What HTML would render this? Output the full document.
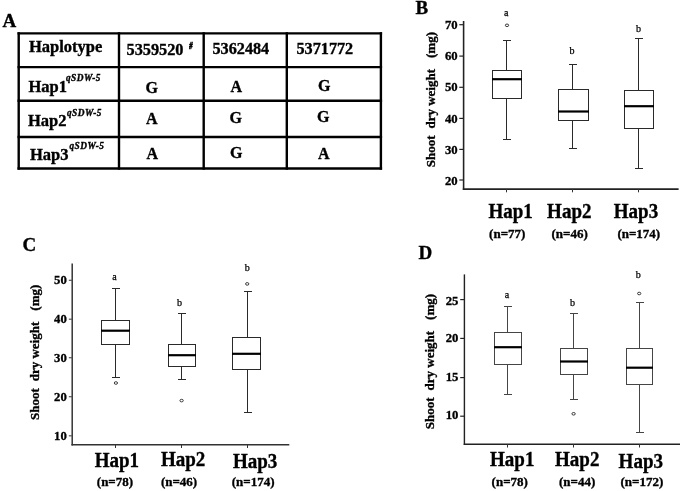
<!DOCTYPE html>
<html><head><meta charset="utf-8"><title>Haplotype figure</title>
<style>
html,body{margin:0;padding:0;background:#fff;}
svg{display:block;font-family:"Liberation Serif", serif;fill:#000;}
text[font-weight=bold]{stroke:#000;stroke-width:0.35px;}
</style></head><body>
<svg width="685" height="491" viewBox="0 0 685 491">
<defs><filter id="soft" x="0" y="0" width="685" height="491" filterUnits="userSpaceOnUse"><feGaussianBlur stdDeviation="0.32"/></filter></defs>
<rect width="685" height="491" fill="#fff"/>
<g filter="url(#soft)">
<text x="2.5" y="27.3" font-size="19" font-weight="bold" text-anchor="start"  >A</text>
<line x1="18.7" y1="32.199999999999996" x2="18.7" y2="169.7" stroke="#000" stroke-width="2.4"/>
<line x1="119" y1="32.199999999999996" x2="119" y2="169.7" stroke="#000" stroke-width="2.4"/>
<line x1="203.7" y1="32.199999999999996" x2="203.7" y2="169.7" stroke="#000" stroke-width="2.4"/>
<line x1="286.8" y1="32.199999999999996" x2="286.8" y2="169.7" stroke="#000" stroke-width="2.4"/>
<line x1="380.9" y1="32.199999999999996" x2="380.9" y2="169.7" stroke="#000" stroke-width="2.4"/>
<line x1="17.5" y1="33.4" x2="382.09999999999997" y2="33.4" stroke="#000" stroke-width="2.4"/>
<line x1="17.5" y1="67.1" x2="382.09999999999997" y2="67.1" stroke="#000" stroke-width="2.4"/>
<line x1="17.5" y1="100.8" x2="382.09999999999997" y2="100.8" stroke="#000" stroke-width="2.4"/>
<line x1="17.5" y1="137" x2="382.09999999999997" y2="137" stroke="#000" stroke-width="2.4"/>
<line x1="17.5" y1="168.5" x2="382.09999999999997" y2="168.5" stroke="#000" stroke-width="2.4"/>
<text x="29" y="51.8" font-size="16.5" font-weight="bold" text-anchor="start"  >Haplotype</text>
<text x="126.5" y="55" font-size="16.3" font-weight="bold" text-anchor="start"  >5359520</text>
<text transform="translate(189.3,49.3) scale(0.62,1)" font-size="10.5" font-weight="bold" font-style="italic" style="stroke-width:0.7px">#</text>
<text x="212.5" y="54.2" font-size="16.2" font-weight="bold" text-anchor="start"  >5362484</text>
<text x="296.5" y="53.7" font-size="16.2" font-weight="bold" text-anchor="start"  >5371772</text>
<text x="28.5" y="92.3" font-size="16.5" font-weight="bold" text-anchor="start"  >Hap1</text>
<text x="66" y="80.8" font-size="9.3" font-weight="bold" text-anchor="start" font-style="italic" letter-spacing="0.45">qSDW-5</text>
<text x="28" y="126.4" font-size="16.5" font-weight="bold" text-anchor="start"  >Hap2</text>
<text x="67" y="115.8" font-size="9.3" font-weight="bold" text-anchor="start" font-style="italic" letter-spacing="0.45">qSDW-5</text>
<text x="30" y="160" font-size="16.5" font-weight="bold" text-anchor="start"  >Hap3</text>
<text x="69.5" y="149.3" font-size="9.3" font-weight="bold" text-anchor="start" font-style="italic" letter-spacing="0.45">qSDW-5</text>
<text x="145.5" y="92.5" font-size="16" font-weight="bold" text-anchor="start"  >G</text>
<text x="230.5" y="92" font-size="16" font-weight="bold" text-anchor="start"  >A</text>
<text x="318" y="90.5" font-size="16" font-weight="bold" text-anchor="start"  >G</text>
<text x="146" y="123.5" font-size="16" font-weight="bold" text-anchor="start"  >A</text>
<text x="229.5" y="122.5" font-size="16" font-weight="bold" text-anchor="start"  >G</text>
<text x="317" y="121.5" font-size="16" font-weight="bold" text-anchor="start"  >G</text>
<text x="146.5" y="159" font-size="16" font-weight="bold" text-anchor="start"  >A</text>
<text x="230" y="158" font-size="16" font-weight="bold" text-anchor="start"  >G</text>
<text x="318" y="159" font-size="16" font-weight="bold" text-anchor="start"  >A</text>
<text x="415.4" y="14.3" font-size="19" font-weight="bold" text-anchor="start"  >B</text>
<line x1="463.6" y1="21" x2="463.6" y2="189.9" stroke="#222" stroke-width="1.6"/>
<line x1="462.8" y1="189.1" x2="678.6" y2="189.1" stroke="#222" stroke-width="1.6"/>
<line x1="459.3" y1="24.7" x2="463.6" y2="24.7" stroke="#222" stroke-width="1.2"/>
<text x="457.70000000000005" y="28.7" font-size="13.5" font-weight="bold" text-anchor="end"  textLength="12.7" lengthAdjust="spacingAndGlyphs">70</text>
<line x1="459.3" y1="56.1" x2="463.6" y2="56.1" stroke="#222" stroke-width="1.2"/>
<text x="457.70000000000005" y="60.199999999999996" font-size="13.5" font-weight="bold" text-anchor="end"  textLength="12.7" lengthAdjust="spacingAndGlyphs">60</text>
<line x1="459.3" y1="87.3" x2="463.6" y2="87.3" stroke="#222" stroke-width="1.2"/>
<text x="457.70000000000005" y="91.0" font-size="13.5" font-weight="bold" text-anchor="end"  textLength="12.7" lengthAdjust="spacingAndGlyphs">50</text>
<line x1="459.3" y1="118.4" x2="463.6" y2="118.4" stroke="#222" stroke-width="1.2"/>
<text x="457.70000000000005" y="123.2" font-size="13.5" font-weight="bold" text-anchor="end"  textLength="12.7" lengthAdjust="spacingAndGlyphs">40</text>
<line x1="459.3" y1="149.4" x2="463.6" y2="149.4" stroke="#222" stroke-width="1.2"/>
<text x="457.70000000000005" y="154.20000000000002" font-size="13.5" font-weight="bold" text-anchor="end"  textLength="12.7" lengthAdjust="spacingAndGlyphs">30</text>
<line x1="459.3" y1="180" x2="463.6" y2="180" stroke="#222" stroke-width="1.2"/>
<text x="457.70000000000005" y="184.8" font-size="13.5" font-weight="bold" text-anchor="end"  textLength="12.7" lengthAdjust="spacingAndGlyphs">20</text>
<text transform="translate(434.5,167.3) rotate(-90)" font-size="13" font-weight="bold">Shoot</text>
<text transform="translate(434.5,128.6) rotate(-90)" font-size="13" font-weight="bold">dry weight</text>
<text transform="translate(434.5,58) rotate(-90)" font-size="13" font-weight="bold">(mg)</text>
<line x1="506.5" y1="189.1" x2="506.5" y2="192.29999999999998" stroke="#333" stroke-width="1"/>
<line x1="506.5" y1="40.5" x2="506.5" y2="70.5" stroke="#2a2a2a" stroke-width="1"/>
<line x1="506.5" y1="98.5" x2="506.5" y2="139.5" stroke="#2a2a2a" stroke-width="1"/>
<line x1="503.0" y1="40.5" x2="511.0" y2="40.5" stroke="#2a2a2a" stroke-width="1"/>
<line x1="503.0" y1="139.5" x2="511.0" y2="139.5" stroke="#2a2a2a" stroke-width="1"/>
<rect x="492.5" y="70.5" width="29.0" height="28.0" fill="#fff" stroke="#2a2a2a" stroke-width="1"/>
<line x1="492.0" y1="79.2" x2="522.0" y2="79.2" stroke="#000" stroke-width="2.2"/>
<ellipse cx="507" cy="25.3" rx="1.65" ry="1.3" fill="#fff" stroke="#000" stroke-width="0.75"/>
<text x="506.2" y="16.2" font-size="10" font-weight="normal" text-anchor="middle"  stroke="#000" stroke-width="0.25">a</text>
<line x1="572.5" y1="189.1" x2="572.5" y2="192.29999999999998" stroke="#333" stroke-width="1"/>
<line x1="572.5" y1="64.5" x2="572.5" y2="89.5" stroke="#2a2a2a" stroke-width="1"/>
<line x1="572.5" y1="120.5" x2="572.5" y2="148.5" stroke="#2a2a2a" stroke-width="1"/>
<line x1="569.0" y1="64.5" x2="577.0" y2="64.5" stroke="#2a2a2a" stroke-width="1"/>
<line x1="569.0" y1="148.5" x2="577.0" y2="148.5" stroke="#2a2a2a" stroke-width="1"/>
<rect x="558.5" y="89.5" width="30.0" height="31.0" fill="#fff" stroke="#2a2a2a" stroke-width="1"/>
<line x1="558.0" y1="111.5" x2="589.0" y2="111.5" stroke="#000" stroke-width="2.2"/>
<text x="572.0" y="54" font-size="10" font-weight="normal" text-anchor="middle"  stroke="#000" stroke-width="0.25">b</text>
<line x1="638.5" y1="189.1" x2="638.5" y2="192.29999999999998" stroke="#333" stroke-width="1"/>
<line x1="638.5" y1="38.5" x2="638.5" y2="90.5" stroke="#2a2a2a" stroke-width="1"/>
<line x1="638.5" y1="128.5" x2="638.5" y2="168.5" stroke="#2a2a2a" stroke-width="1"/>
<line x1="635.0" y1="38.5" x2="643.0" y2="38.5" stroke="#2a2a2a" stroke-width="1"/>
<line x1="635.0" y1="168.5" x2="643.0" y2="168.5" stroke="#2a2a2a" stroke-width="1"/>
<rect x="624.5" y="90.5" width="29.0" height="38.0" fill="#fff" stroke="#2a2a2a" stroke-width="1"/>
<line x1="624.0" y1="106.2" x2="654.0" y2="106.2" stroke="#000" stroke-width="2.2"/>
<text x="638.6" y="31.7" font-size="10" font-weight="normal" text-anchor="middle"  stroke="#000" stroke-width="0.25">b</text>
<text x="488.4" y="218" font-size="20.1" font-weight="bold" text-anchor="start"  textLength="44.4" lengthAdjust="spacingAndGlyphs">Hap1</text>
<text x="547.1" y="218" font-size="20.1" font-weight="bold" text-anchor="start"  textLength="44.4" lengthAdjust="spacingAndGlyphs">Hap2</text>
<text x="613.8" y="218" font-size="20.1" font-weight="bold" text-anchor="start"  textLength="44.4" lengthAdjust="spacingAndGlyphs">Hap3</text>
<text x="489.1" y="237.7" font-size="13" font-weight="bold" text-anchor="start"  >(n=77)</text>
<text x="551.5" y="237.7" font-size="13" font-weight="bold" text-anchor="start"  >(n=46)</text>
<text x="617.4" y="237.7" font-size="13" font-weight="bold" text-anchor="start"  >(n=174)</text>
<text x="22.4" y="251.2" font-size="19" font-weight="bold" text-anchor="start"  >C</text>
<line x1="72.2" y1="263.5" x2="72.2" y2="445.55" stroke="#333" stroke-width="1.5"/>
<line x1="71.45" y1="444.8" x2="289.3" y2="444.8" stroke="#333" stroke-width="1.5"/>
<line x1="68.85000000000001" y1="280.3" x2="72.2" y2="280.3" stroke="#555" stroke-width="1.2"/>
<text x="66.8" y="283.7" font-size="13.2" font-weight="bold" text-anchor="end"  textLength="12.7" lengthAdjust="spacingAndGlyphs">50</text>
<line x1="68.85000000000001" y1="319.2" x2="72.2" y2="319.2" stroke="#555" stroke-width="1.2"/>
<text x="66.8" y="323.2" font-size="13.2" font-weight="bold" text-anchor="end"  textLength="12.7" lengthAdjust="spacingAndGlyphs">40</text>
<line x1="68.85000000000001" y1="357.7" x2="72.2" y2="357.7" stroke="#555" stroke-width="1.2"/>
<text x="66.8" y="361.7" font-size="13.2" font-weight="bold" text-anchor="end"  textLength="12.7" lengthAdjust="spacingAndGlyphs">30</text>
<line x1="68.85000000000001" y1="396.7" x2="72.2" y2="396.7" stroke="#555" stroke-width="1.2"/>
<text x="66.8" y="400.7" font-size="13.2" font-weight="bold" text-anchor="end"  textLength="12.7" lengthAdjust="spacingAndGlyphs">20</text>
<line x1="68.85000000000001" y1="435.8" x2="72.2" y2="435.8" stroke="#555" stroke-width="1.2"/>
<text x="66.8" y="439.8" font-size="13.2" font-weight="bold" text-anchor="end"  textLength="12.7" lengthAdjust="spacingAndGlyphs">10</text>
<text transform="translate(38.7,420) rotate(-90)" font-size="13" font-weight="bold">Shoot</text>
<text transform="translate(38.7,381.3) rotate(-90)" font-size="13" font-weight="bold">dry weight</text>
<text transform="translate(38.7,310.7) rotate(-90)" font-size="13" font-weight="bold">(mg)</text>
<line x1="115.5" y1="444.8" x2="115.5" y2="448.0" stroke="#333" stroke-width="1"/>
<line x1="115.5" y1="288.5" x2="115.5" y2="320.5" stroke="#2a2a2a" stroke-width="1"/>
<line x1="115.5" y1="344.5" x2="115.5" y2="377.5" stroke="#2a2a2a" stroke-width="1"/>
<line x1="112.0" y1="288.5" x2="120.0" y2="288.5" stroke="#2a2a2a" stroke-width="1"/>
<line x1="112.0" y1="377.5" x2="120.0" y2="377.5" stroke="#2a2a2a" stroke-width="1"/>
<rect x="101.5" y="320.5" width="28.0" height="24.0" fill="#fff" stroke="#2a2a2a" stroke-width="1"/>
<line x1="101.0" y1="330.7" x2="130.0" y2="330.7" stroke="#000" stroke-width="2.2"/>
<ellipse cx="115.9" cy="383" rx="1.65" ry="1.3" fill="#fff" stroke="#000" stroke-width="0.75"/>
<text x="114.4" y="279.5" font-size="10" font-weight="normal" text-anchor="middle"  stroke="#000" stroke-width="0.25">a</text>
<line x1="181.5" y1="444.8" x2="181.5" y2="448.0" stroke="#333" stroke-width="1"/>
<line x1="181.5" y1="313.5" x2="181.5" y2="344.5" stroke="#2a2a2a" stroke-width="1"/>
<line x1="181.5" y1="366.5" x2="181.5" y2="379.5" stroke="#2a2a2a" stroke-width="1"/>
<line x1="178.0" y1="313.5" x2="186.0" y2="313.5" stroke="#2a2a2a" stroke-width="1"/>
<line x1="178.0" y1="379.5" x2="186.0" y2="379.5" stroke="#2a2a2a" stroke-width="1"/>
<rect x="168.5" y="344.5" width="27.0" height="22.0" fill="#fff" stroke="#2a2a2a" stroke-width="1"/>
<line x1="168.0" y1="355.2" x2="196.0" y2="355.2" stroke="#000" stroke-width="2.2"/>
<ellipse cx="181.6" cy="400.6" rx="1.65" ry="1.3" fill="#fff" stroke="#000" stroke-width="0.75"/>
<text x="179.6" y="305.5" font-size="10" font-weight="normal" text-anchor="middle"  stroke="#000" stroke-width="0.25">b</text>
<line x1="247.5" y1="444.8" x2="247.5" y2="448.0" stroke="#333" stroke-width="1"/>
<line x1="247.5" y1="291.5" x2="247.5" y2="337.5" stroke="#2a2a2a" stroke-width="1"/>
<line x1="247.5" y1="369.5" x2="247.5" y2="412.5" stroke="#2a2a2a" stroke-width="1"/>
<line x1="244.0" y1="291.5" x2="252.0" y2="291.5" stroke="#2a2a2a" stroke-width="1"/>
<line x1="244.0" y1="412.5" x2="252.0" y2="412.5" stroke="#2a2a2a" stroke-width="1"/>
<rect x="232.5" y="337.5" width="28.0" height="32.0" fill="#fff" stroke="#2a2a2a" stroke-width="1"/>
<line x1="232.0" y1="353.8" x2="261.0" y2="353.8" stroke="#000" stroke-width="2.2"/>
<ellipse cx="247.2" cy="283.9" rx="1.65" ry="1.3" fill="#fff" stroke="#000" stroke-width="0.75"/>
<text x="247.2" y="271" font-size="10" font-weight="normal" text-anchor="middle"  stroke="#000" stroke-width="0.25">b</text>
<text x="94.7" y="466.6" font-size="20.1" font-weight="bold" text-anchor="start"  textLength="44.4" lengthAdjust="spacingAndGlyphs">Hap1</text>
<text x="160.9" y="466" font-size="20.1" font-weight="bold" text-anchor="start"  textLength="44.4" lengthAdjust="spacingAndGlyphs">Hap2</text>
<text x="232.9" y="467.9" font-size="20.1" font-weight="bold" text-anchor="start"  textLength="44.4" lengthAdjust="spacingAndGlyphs">Hap3</text>
<text x="96.8" y="485.5" font-size="13" font-weight="bold" text-anchor="start"  >(n=78)</text>
<text x="160.9" y="485.5" font-size="13" font-weight="bold" text-anchor="start"  >(n=46)</text>
<text x="231.7" y="485.5" font-size="13" font-weight="bold" text-anchor="start"  >(n=174)</text>
<text x="418.5" y="259" font-size="19" font-weight="bold" text-anchor="start"  >D</text>
<line x1="464.4" y1="274.4" x2="464.4" y2="445.0" stroke="#222" stroke-width="1.4"/>
<line x1="463.7" y1="444.3" x2="680" y2="444.3" stroke="#222" stroke-width="1.4"/>
<line x1="460.2" y1="299.6" x2="464.4" y2="299.6" stroke="#222" stroke-width="1.2"/>
<text x="458.4" y="304.70000000000005" font-size="13.5" font-weight="bold" text-anchor="end"  textLength="12.7" lengthAdjust="spacingAndGlyphs">25</text>
<line x1="460.2" y1="338.4" x2="464.4" y2="338.4" stroke="#222" stroke-width="1.2"/>
<text x="458.4" y="342.4" font-size="13.5" font-weight="bold" text-anchor="end"  textLength="12.7" lengthAdjust="spacingAndGlyphs">20</text>
<line x1="460.2" y1="377.6" x2="464.4" y2="377.6" stroke="#222" stroke-width="1.2"/>
<text x="458.4" y="381.20000000000005" font-size="13.5" font-weight="bold" text-anchor="end"  textLength="12.7" lengthAdjust="spacingAndGlyphs">15</text>
<line x1="460.2" y1="416.2" x2="464.4" y2="416.2" stroke="#222" stroke-width="1.2"/>
<text x="458.4" y="419.2" font-size="13.5" font-weight="bold" text-anchor="end"  textLength="12.7" lengthAdjust="spacingAndGlyphs">10</text>
<text transform="translate(434.2,429.2) rotate(-90)" font-size="13" font-weight="bold">Shoot</text>
<text transform="translate(434.2,390.5) rotate(-90)" font-size="13" font-weight="bold">dry weight</text>
<text transform="translate(434.2,319.9) rotate(-90)" font-size="13" font-weight="bold">(mg)</text>
<line x1="507.5" y1="444.3" x2="507.5" y2="447.5" stroke="#333" stroke-width="1"/>
<line x1="507.5" y1="306.5" x2="507.5" y2="332.5" stroke="#444" stroke-width="1"/>
<line x1="507.5" y1="364.5" x2="507.5" y2="394.5" stroke="#444" stroke-width="1"/>
<line x1="504.0" y1="306.5" x2="512.0" y2="306.5" stroke="#444" stroke-width="1"/>
<line x1="504.0" y1="394.5" x2="512.0" y2="394.5" stroke="#444" stroke-width="1"/>
<rect x="494.5" y="332.5" width="27.0" height="32.0" fill="#fff" stroke="#444" stroke-width="1"/>
<line x1="494.0" y1="347.2" x2="522.0" y2="347.2" stroke="#000" stroke-width="2.2"/>
<text x="507.0" y="298" font-size="10" font-weight="normal" text-anchor="middle"  stroke="#000" stroke-width="0.25">a</text>
<line x1="573.5" y1="444.3" x2="573.5" y2="447.5" stroke="#333" stroke-width="1"/>
<line x1="573.5" y1="313.5" x2="573.5" y2="348.5" stroke="#444" stroke-width="1"/>
<line x1="573.5" y1="374.5" x2="573.5" y2="399.5" stroke="#444" stroke-width="1"/>
<line x1="570.0" y1="313.5" x2="578.0" y2="313.5" stroke="#444" stroke-width="1"/>
<line x1="570.0" y1="399.5" x2="578.0" y2="399.5" stroke="#444" stroke-width="1"/>
<rect x="560.5" y="348.5" width="27.0" height="26.0" fill="#fff" stroke="#444" stroke-width="1"/>
<line x1="560.0" y1="361.5" x2="588.0" y2="361.5" stroke="#000" stroke-width="2.2"/>
<ellipse cx="573.6" cy="413.8" rx="1.65" ry="1.3" fill="#fff" stroke="#000" stroke-width="0.75"/>
<text x="572.6" y="305.5" font-size="10" font-weight="normal" text-anchor="middle"  stroke="#000" stroke-width="0.25">b</text>
<line x1="639.5" y1="444.3" x2="639.5" y2="447.5" stroke="#333" stroke-width="1"/>
<line x1="639.5" y1="302.5" x2="639.5" y2="348.5" stroke="#444" stroke-width="1"/>
<line x1="639.5" y1="384.5" x2="639.5" y2="432.5" stroke="#444" stroke-width="1"/>
<line x1="636.0" y1="302.5" x2="644.0" y2="302.5" stroke="#444" stroke-width="1"/>
<line x1="636.0" y1="432.5" x2="644.0" y2="432.5" stroke="#444" stroke-width="1"/>
<rect x="626.5" y="348.5" width="26.0" height="36.0" fill="#fff" stroke="#444" stroke-width="1"/>
<line x1="626.0" y1="367.7" x2="653.0" y2="367.7" stroke="#000" stroke-width="2.2"/>
<ellipse cx="639.2" cy="293.5" rx="1.65" ry="1.3" fill="#fff" stroke="#000" stroke-width="0.75"/>
<text x="638.2" y="278" font-size="10" font-weight="normal" text-anchor="middle"  stroke="#000" stroke-width="0.25">b</text>
<text x="490" y="466.3" font-size="20.1" font-weight="bold" text-anchor="start"  textLength="44.4" lengthAdjust="spacingAndGlyphs">Hap1</text>
<text x="555" y="465.7" font-size="20.1" font-weight="bold" text-anchor="start"  textLength="44.4" lengthAdjust="spacingAndGlyphs">Hap2</text>
<text x="618.6" y="467.6" font-size="20.1" font-weight="bold" text-anchor="start"  textLength="44.4" lengthAdjust="spacingAndGlyphs">Hap3</text>
<text x="491.6" y="485.5" font-size="13" font-weight="bold" text-anchor="start"  >(n=78)</text>
<text x="559" y="485.5" font-size="13" font-weight="bold" text-anchor="start"  >(n=44)</text>
<text x="620.5" y="485.5" font-size="13" font-weight="bold" text-anchor="start"  >(n=172)</text>
</g>
</svg>
</body></html>
